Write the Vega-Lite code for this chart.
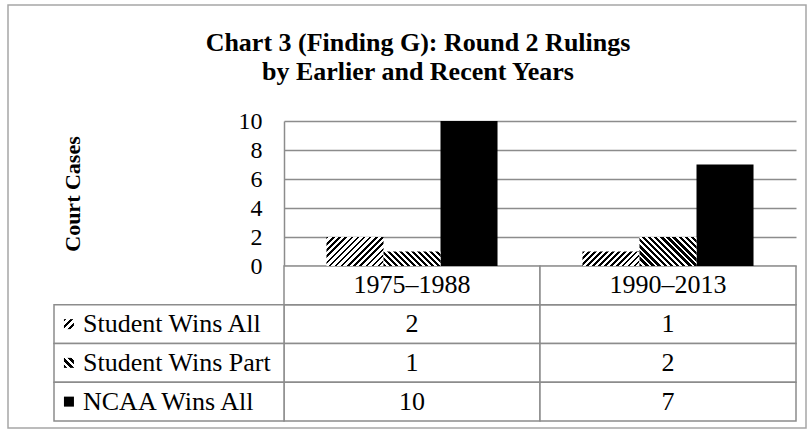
{
  "$schema": "https://vega.github.io/schema/vega-lite/v6.json",
  "width": 512,
  "height": 300,
  "autosize": {"type": "none"},
  "padding": {"left": 284, "top": 121, "right": 14, "bottom": 11},
  "background": "white",
  "config": {"view": {"stroke": null}, "font": "Liberation Serif"},
  "title": {
    "text": ["Chart 3 (Finding G): Round 2 Rulings", "by Earlier and Recent Years"],
    "font": "Liberation Serif", "fontSize": 26, "fontWeight": "bold", "color": "#000",
    "lineHeight": 29, "anchor": "middle", "frame": "group", "dx": -122,
    "baseline": "bottom", "offset": -107
  },
  "datasets": {
    "cases": [
      {"period": "1975–1988", "series": "Student Wins All", "cases": 2},
      {"period": "1975–1988", "series": "Student Wins Part", "cases": 1},
      {"period": "1975–1988", "series": "NCAA Wins All", "cases": 10},
      {"period": "1990–2013", "series": "Student Wins All", "cases": 1},
      {"period": "1990–2013", "series": "Student Wins Part", "cases": 2},
      {"period": "1990–2013", "series": "NCAA Wins All", "cases": 7}
    ]
  },
  "data": {"name": "cases"},
  "resolve": {"scale": {"x": "independent", "y": "independent"}},
  "layer": [
    {
      "transform": [{"aggregate": [{"op": "count", "as": "n"}]}],
      "mark": {"type": "rect", "fill": "white", "fillOpacity": 0, "stroke": "#a6a6a6", "strokeWidth": 1.5},
      "encoding": {
        "x": {"datum": 0, "type": "quantitative", "scale": {"domain": [0, 1], "range": [-276, 522]}, "axis": null},
        "x2": {"datum": 1},
        "y": {"datum": 0, "type": "quantitative", "scale": {"domain": [0, 1], "range": [-116, 307]}, "axis": null},
        "y2": {"datum": 1}
      }
    },
    {
      "mark": {"type": "rect", "fill": "white", "stroke": "#8c8c8c", "strokeWidth": 1.5},
      "encoding": {
        "x": {"field": "period", "type": "nominal", "scale": {"domain": ["1975–1988", "1990–2013"], "paddingInner": 0, "paddingOuter": 0}, "axis": null},
        "y": {"field": "series", "type": "nominal", "scale": {"domain": ["Period", "Student Wins All", "Student Wins Part", "NCAA Wins All"], "range": [145, 300], "paddingInner": 0, "paddingOuter": 0}, "axis": null}
      }
    },
    {
      "mark": {"type": "text", "fontSize": 26, "font": "Liberation Serif", "color": "#000", "baseline": "middle", "align": "center"},
      "encoding": {
        "x": {"field": "period", "type": "nominal", "scale": {"domain": ["1975–1988", "1990–2013"], "paddingInner": 0, "paddingOuter": 0}, "axis": null},
        "y": {"field": "series", "type": "nominal", "scale": {"domain": ["Period", "Student Wins All", "Student Wins Part", "NCAA Wins All"], "range": [145, 300], "paddingInner": 0, "paddingOuter": 0}, "axis": null},
        "text": {"field": "cases", "type": "quantitative"}
      }
    },
    {
      "transform": [{"aggregate": [{"op": "count", "as": "n"}], "groupby": ["period"]}],
      "mark": {"type": "rect", "fill": "white", "stroke": "#8c8c8c", "strokeWidth": 1.5},
      "encoding": {
        "x": {"field": "period", "type": "nominal", "scale": {"domain": ["1975–1988", "1990–2013"], "paddingInner": 0, "paddingOuter": 0}, "axis": null},
        "y": {"datum": "Period", "type": "nominal", "scale": {"domain": ["Period", "Student Wins All", "Student Wins Part", "NCAA Wins All"], "range": [145, 300], "paddingInner": 0, "paddingOuter": 0}, "axis": null}
      }
    },
    {
      "transform": [{"aggregate": [{"op": "count", "as": "n"}], "groupby": ["period"]}],
      "mark": {"type": "text", "fontSize": 26, "font": "Liberation Serif", "color": "#000", "baseline": "middle", "align": "center"},
      "encoding": {
        "x": {"field": "period", "type": "nominal", "scale": {"domain": ["1975–1988", "1990–2013"], "paddingInner": 0, "paddingOuter": 0}, "axis": null},
        "y": {"datum": "Period", "type": "nominal", "scale": {"domain": ["Period", "Student Wins All", "Student Wins Part", "NCAA Wins All"], "range": [145, 300], "paddingInner": 0, "paddingOuter": 0}, "axis": null},
        "text": {"field": "period", "type": "nominal"}
      }
    },
    {
      "transform": [{"aggregate": [{"op": "count", "as": "n"}], "groupby": ["series"]}],
      "mark": {"type": "rect", "fill": "white", "stroke": "#8c8c8c", "strokeWidth": 1.5},
      "encoding": {
        "x": {"datum": 0, "type": "quantitative", "scale": {"domain": [0, 1], "range": [-230, 0]}, "axis": null},
        "x2": {"datum": 1},
        "y": {"field": "series", "type": "nominal", "scale": {"domain": ["Period", "Student Wins All", "Student Wins Part", "NCAA Wins All"], "range": [145, 300], "paddingInner": 0, "paddingOuter": 0}, "axis": null}
      }
    },
    {
      "transform": [{"aggregate": [{"op": "count", "as": "n"}], "groupby": ["series"]}],
      "mark": {"type": "text", "fontSize": 26, "font": "Liberation Serif", "color": "#000", "baseline": "middle", "align": "left", "dx": 29},
      "encoding": {
        "x": {"datum": 0, "type": "quantitative", "scale": {"domain": [0, 1], "range": [-230, 0]}, "axis": null},
        "y": {"field": "series", "type": "nominal", "scale": {"domain": ["Period", "Student Wins All", "Student Wins Part", "NCAA Wins All"], "range": [145, 300], "paddingInner": 0, "paddingOuter": 0}, "axis": null},
        "text": {"field": "series", "type": "nominal"}
      }
    },
    {
      "transform": [{"aggregate": [{"op": "count", "as": "n"}], "groupby": ["series"]}, {"filter": "datum.series === 'Student Wins All'"}],
      "mark": {"type": "point", "shape": "square", "size": 100, "filled": true, "strokeWidth": 0, "opacity": 1,
        "fill": {"gradient": "linear", "x1": 0, "y1": 0, "x2": 1, "y2": 1, "stops": [
          {"offset": 0, "color": "#000"}, {"offset": 0.133, "color": "#000"}, {"offset": 0.133, "color": "#fff"}, {"offset": 0.333, "color": "#fff"},
          {"offset": 0.333, "color": "#000"}, {"offset": 0.467, "color": "#000"}, {"offset": 0.467, "color": "#fff"}, {"offset": 0.667, "color": "#fff"},
          {"offset": 0.667, "color": "#000"}, {"offset": 0.8, "color": "#000"}, {"offset": 0.8, "color": "#fff"}, {"offset": 1, "color": "#fff"}]}},
      "encoding": {
        "x": {"datum": 0.065, "type": "quantitative", "scale": {"domain": [0, 1], "range": [-230, 0]}, "axis": null},
        "y": {"field": "series", "type": "nominal", "scale": {"domain": ["Period", "Student Wins All", "Student Wins Part", "NCAA Wins All"], "range": [145, 300], "paddingInner": 0, "paddingOuter": 0}, "axis": null}
      }
    },
    {
      "transform": [{"aggregate": [{"op": "count", "as": "n"}], "groupby": ["series"]}, {"filter": "datum.series === 'Student Wins Part'"}],
      "mark": {"type": "point", "shape": "square", "size": 100, "filled": true, "strokeWidth": 0, "opacity": 1,
        "fill": {"gradient": "linear", "x1": 0, "y1": 1, "x2": 1, "y2": 0, "stops": [
          {"offset": 0, "color": "#000"}, {"offset": 0.183, "color": "#000"}, {"offset": 0.183, "color": "#fff"}, {"offset": 0.333, "color": "#fff"},
          {"offset": 0.333, "color": "#000"}, {"offset": 0.517, "color": "#000"}, {"offset": 0.517, "color": "#fff"}, {"offset": 0.667, "color": "#fff"},
          {"offset": 0.667, "color": "#000"}, {"offset": 0.85, "color": "#000"}, {"offset": 0.85, "color": "#fff"}, {"offset": 1, "color": "#fff"}]}},
      "encoding": {
        "x": {"datum": 0.065, "type": "quantitative", "scale": {"domain": [0, 1], "range": [-230, 0]}, "axis": null},
        "y": {"field": "series", "type": "nominal", "scale": {"domain": ["Period", "Student Wins All", "Student Wins Part", "NCAA Wins All"], "range": [145, 300], "paddingInner": 0, "paddingOuter": 0}, "axis": null}
      }
    },
    {
      "transform": [{"aggregate": [{"op": "count", "as": "n"}], "groupby": ["series"]}, {"filter": "datum.series === 'NCAA Wins All'"}],
      "mark": {"type": "point", "shape": "square", "size": 100, "filled": true, "strokeWidth": 0, "opacity": 1, "fill": "#000"},
      "encoding": {
        "x": {"datum": 0.065, "type": "quantitative", "scale": {"domain": [0, 1], "range": [-230, 0]}, "axis": null},
        "y": {"field": "series", "type": "nominal", "scale": {"domain": ["Period", "Student Wins All", "Student Wins Part", "NCAA Wins All"], "range": [145, 300], "paddingInner": 0, "paddingOuter": 0}, "axis": null}
      }
    },
    {
      "transform": [{"filter": "datum.series === 'NCAA Wins All'"}],
      "mark": {"type": "bar", "fill": "#000"},
      "encoding": {
        "x": {"field": "period", "type": "nominal", "scale": {"domain": ["1975–1988", "1990–2013"], "paddingInner": 0, "paddingOuter": 0}, "axis": null},
        "xOffset": {"field": "series", "type": "nominal", "scale": {"domain": ["Student Wins All", "Student Wins Part", "NCAA Wins All"], "paddingInner": 0, "paddingOuter": 0.745}},
        "y": {"field": "cases", "type": "quantitative", "scale": {"domain": [0, 10], "range": [145, 0], "nice": false},
          "axis": {"values": [0, 2, 4, 6, 8, 10], "grid": true, "gridColor": "#8c8c8c", "gridWidth": 1.5,
            "domainColor": "#8c8c8c", "domainWidth": 1.5, "ticks": false, "labelPadding": 22,
            "labelFont": "Liberation Serif", "labelFontSize": 24, "labelColor": "#000", "labelBaseline": "middle",
            "title": "Court Cases", "titleFont": "Liberation Serif", "titleFontSize": 22, "titleFontWeight": "bold", "titleColor": "#000",
            "titleX": -212, "titleY": 72.5, "titleAngle": -90, "titleAlign": "center", "titleBaseline": "middle"}}
      }
    },
    {
      "transform": [{"filter": "datum.series === 'Student Wins All' && datum.cases === 2"}],
      "mark": {"type": "bar", "fill": {"gradient": "linear", "x1": 0, "y1": 0, "x2": 1.1985, "y2": 0.6098, "stops": [
        {"offset": 0, "color": "#000"}, {"offset": 0.0286, "color": "#000"}, {"offset": 0.0286, "color": "#fff"}, {"offset": 0.0714, "color": "#fff"},
        {"offset": 0.0714, "color": "#000"}, {"offset": 0.1, "color": "#000"}, {"offset": 0.1, "color": "#fff"}, {"offset": 0.1429, "color": "#fff"},
        {"offset": 0.1429, "color": "#000"}, {"offset": 0.1714, "color": "#000"}, {"offset": 0.1714, "color": "#fff"}, {"offset": 0.2143, "color": "#fff"},
        {"offset": 0.2143, "color": "#000"}, {"offset": 0.2429, "color": "#000"}, {"offset": 0.2429, "color": "#fff"}, {"offset": 0.2857, "color": "#fff"},
        {"offset": 0.2857, "color": "#000"}, {"offset": 0.3143, "color": "#000"}, {"offset": 0.3143, "color": "#fff"}, {"offset": 0.3571, "color": "#fff"},
        {"offset": 0.3571, "color": "#000"}, {"offset": 0.3857, "color": "#000"}, {"offset": 0.3857, "color": "#fff"}, {"offset": 0.4286, "color": "#fff"},
        {"offset": 0.4286, "color": "#000"}, {"offset": 0.4571, "color": "#000"}, {"offset": 0.4571, "color": "#fff"}, {"offset": 0.5, "color": "#fff"},
        {"offset": 0.5, "color": "#000"}, {"offset": 0.5286, "color": "#000"}, {"offset": 0.5286, "color": "#fff"}, {"offset": 0.5714, "color": "#fff"},
        {"offset": 0.5714, "color": "#000"}, {"offset": 0.6, "color": "#000"}, {"offset": 0.6, "color": "#fff"}, {"offset": 0.6429, "color": "#fff"},
        {"offset": 0.6429, "color": "#000"}, {"offset": 0.6714, "color": "#000"}, {"offset": 0.6714, "color": "#fff"}, {"offset": 0.7143, "color": "#fff"},
        {"offset": 0.7143, "color": "#000"}, {"offset": 0.7429, "color": "#000"}, {"offset": 0.7429, "color": "#fff"}, {"offset": 0.7857, "color": "#fff"},
        {"offset": 0.7857, "color": "#000"}, {"offset": 0.8143, "color": "#000"}, {"offset": 0.8143, "color": "#fff"}, {"offset": 0.8571, "color": "#fff"},
        {"offset": 0.8571, "color": "#000"}, {"offset": 0.8857, "color": "#000"}, {"offset": 0.8857, "color": "#fff"}, {"offset": 0.9286, "color": "#fff"},
        {"offset": 0.9286, "color": "#000"}, {"offset": 0.9571, "color": "#000"}, {"offset": 0.9571, "color": "#fff"}, {"offset": 1, "color": "#fff"}]}},
      "encoding": {
        "x": {"field": "period", "type": "nominal", "scale": {"domain": ["1975–1988", "1990–2013"], "paddingInner": 0, "paddingOuter": 0}, "axis": null},
        "xOffset": {"field": "series", "type": "nominal", "scale": {"domain": ["Student Wins All", "Student Wins Part", "NCAA Wins All"], "paddingInner": 0, "paddingOuter": 0.745}},
        "y": {"field": "cases", "type": "quantitative", "scale": {"domain": [0, 10], "range": [145, 0], "nice": false}, "axis": null}
      }
    },
    {
      "transform": [{"filter": "datum.series === 'Student Wins All' && datum.cases === 1"}],
      "mark": {"type": "bar", "fill": {"gradient": "linear", "x1": 0, "y1": 0, "x2": 1.1782, "y2": 0.2997, "stops": [
        {"offset": 0, "color": "#000"}, {"offset": 0.0333, "color": "#000"}, {"offset": 0.0333, "color": "#fff"}, {"offset": 0.0833, "color": "#fff"},
        {"offset": 0.0833, "color": "#000"}, {"offset": 0.1167, "color": "#000"}, {"offset": 0.1167, "color": "#fff"}, {"offset": 0.1667, "color": "#fff"},
        {"offset": 0.1667, "color": "#000"}, {"offset": 0.2, "color": "#000"}, {"offset": 0.2, "color": "#fff"}, {"offset": 0.25, "color": "#fff"},
        {"offset": 0.25, "color": "#000"}, {"offset": 0.2833, "color": "#000"}, {"offset": 0.2833, "color": "#fff"}, {"offset": 0.3333, "color": "#fff"},
        {"offset": 0.3333, "color": "#000"}, {"offset": 0.3667, "color": "#000"}, {"offset": 0.3667, "color": "#fff"}, {"offset": 0.4167, "color": "#fff"},
        {"offset": 0.4167, "color": "#000"}, {"offset": 0.45, "color": "#000"}, {"offset": 0.45, "color": "#fff"}, {"offset": 0.5, "color": "#fff"},
        {"offset": 0.5, "color": "#000"}, {"offset": 0.5333, "color": "#000"}, {"offset": 0.5333, "color": "#fff"}, {"offset": 0.5833, "color": "#fff"},
        {"offset": 0.5833, "color": "#000"}, {"offset": 0.6167, "color": "#000"}, {"offset": 0.6167, "color": "#fff"}, {"offset": 0.6667, "color": "#fff"},
        {"offset": 0.6667, "color": "#000"}, {"offset": 0.7, "color": "#000"}, {"offset": 0.7, "color": "#fff"}, {"offset": 0.75, "color": "#fff"},
        {"offset": 0.75, "color": "#000"}, {"offset": 0.7833, "color": "#000"}, {"offset": 0.7833, "color": "#fff"}, {"offset": 0.8333, "color": "#fff"},
        {"offset": 0.8333, "color": "#000"}, {"offset": 0.8667, "color": "#000"}, {"offset": 0.8667, "color": "#fff"}, {"offset": 0.9167, "color": "#fff"},
        {"offset": 0.9167, "color": "#000"}, {"offset": 0.95, "color": "#000"}, {"offset": 0.95, "color": "#fff"}, {"offset": 1, "color": "#fff"}]}},
      "encoding": {
        "x": {"field": "period", "type": "nominal", "scale": {"domain": ["1975–1988", "1990–2013"], "paddingInner": 0, "paddingOuter": 0}, "axis": null},
        "xOffset": {"field": "series", "type": "nominal", "scale": {"domain": ["Student Wins All", "Student Wins Part", "NCAA Wins All"], "paddingInner": 0, "paddingOuter": 0.745}},
        "y": {"field": "cases", "type": "quantitative", "scale": {"domain": [0, 10], "range": [145, 0], "nice": false}, "axis": null}
      }
    },
    {
      "transform": [{"filter": "datum.series === 'Student Wins Part' && datum.cases === 1"}],
      "mark": {"type": "bar", "fill": {"gradient": "linear", "x1": 0, "y1": 1, "x2": 1.1782, "y2": 0.7003, "stops": [
        {"offset": 0, "color": "#000"}, {"offset": 0.0458, "color": "#000"}, {"offset": 0.0458, "color": "#fff"}, {"offset": 0.0833, "color": "#fff"},
        {"offset": 0.0833, "color": "#000"}, {"offset": 0.1292, "color": "#000"}, {"offset": 0.1292, "color": "#fff"}, {"offset": 0.1667, "color": "#fff"},
        {"offset": 0.1667, "color": "#000"}, {"offset": 0.2125, "color": "#000"}, {"offset": 0.2125, "color": "#fff"}, {"offset": 0.25, "color": "#fff"},
        {"offset": 0.25, "color": "#000"}, {"offset": 0.2958, "color": "#000"}, {"offset": 0.2958, "color": "#fff"}, {"offset": 0.3333, "color": "#fff"},
        {"offset": 0.3333, "color": "#000"}, {"offset": 0.3792, "color": "#000"}, {"offset": 0.3792, "color": "#fff"}, {"offset": 0.4167, "color": "#fff"},
        {"offset": 0.4167, "color": "#000"}, {"offset": 0.4625, "color": "#000"}, {"offset": 0.4625, "color": "#fff"}, {"offset": 0.5, "color": "#fff"},
        {"offset": 0.5, "color": "#000"}, {"offset": 0.5458, "color": "#000"}, {"offset": 0.5458, "color": "#fff"}, {"offset": 0.5833, "color": "#fff"},
        {"offset": 0.5833, "color": "#000"}, {"offset": 0.6292, "color": "#000"}, {"offset": 0.6292, "color": "#fff"}, {"offset": 0.6667, "color": "#fff"},
        {"offset": 0.6667, "color": "#000"}, {"offset": 0.7125, "color": "#000"}, {"offset": 0.7125, "color": "#fff"}, {"offset": 0.75, "color": "#fff"},
        {"offset": 0.75, "color": "#000"}, {"offset": 0.7958, "color": "#000"}, {"offset": 0.7958, "color": "#fff"}, {"offset": 0.8333, "color": "#fff"},
        {"offset": 0.8333, "color": "#000"}, {"offset": 0.8792, "color": "#000"}, {"offset": 0.8792, "color": "#fff"}, {"offset": 0.9167, "color": "#fff"},
        {"offset": 0.9167, "color": "#000"}, {"offset": 0.9625, "color": "#000"}, {"offset": 0.9625, "color": "#fff"}, {"offset": 1, "color": "#fff"}]}},
      "encoding": {
        "x": {"field": "period", "type": "nominal", "scale": {"domain": ["1975–1988", "1990–2013"], "paddingInner": 0, "paddingOuter": 0}, "axis": null},
        "xOffset": {"field": "series", "type": "nominal", "scale": {"domain": ["Student Wins All", "Student Wins Part", "NCAA Wins All"], "paddingInner": 0, "paddingOuter": 0.745}},
        "y": {"field": "cases", "type": "quantitative", "scale": {"domain": [0, 10], "range": [145, 0], "nice": false}, "axis": null}
      }
    },
    {
      "transform": [{"filter": "datum.series === 'Student Wins Part' && datum.cases === 2"}],
      "mark": {"type": "bar", "fill": {"gradient": "linear", "x1": 0, "y1": 1, "x2": 1.1985, "y2": 0.3902, "stops": [
        {"offset": 0, "color": "#000"}, {"offset": 0.0393, "color": "#000"}, {"offset": 0.0393, "color": "#fff"}, {"offset": 0.0714, "color": "#fff"},
        {"offset": 0.0714, "color": "#000"}, {"offset": 0.1107, "color": "#000"}, {"offset": 0.1107, "color": "#fff"}, {"offset": 0.1429, "color": "#fff"},
        {"offset": 0.1429, "color": "#000"}, {"offset": 0.1821, "color": "#000"}, {"offset": 0.1821, "color": "#fff"}, {"offset": 0.2143, "color": "#fff"},
        {"offset": 0.2143, "color": "#000"}, {"offset": 0.2536, "color": "#000"}, {"offset": 0.2536, "color": "#fff"}, {"offset": 0.2857, "color": "#fff"},
        {"offset": 0.2857, "color": "#000"}, {"offset": 0.325, "color": "#000"}, {"offset": 0.325, "color": "#fff"}, {"offset": 0.3571, "color": "#fff"},
        {"offset": 0.3571, "color": "#000"}, {"offset": 0.3964, "color": "#000"}, {"offset": 0.3964, "color": "#fff"}, {"offset": 0.4286, "color": "#fff"},
        {"offset": 0.4286, "color": "#000"}, {"offset": 0.4679, "color": "#000"}, {"offset": 0.4679, "color": "#fff"}, {"offset": 0.5, "color": "#fff"},
        {"offset": 0.5, "color": "#000"}, {"offset": 0.5393, "color": "#000"}, {"offset": 0.5393, "color": "#fff"}, {"offset": 0.5714, "color": "#fff"},
        {"offset": 0.5714, "color": "#000"}, {"offset": 0.6107, "color": "#000"}, {"offset": 0.6107, "color": "#fff"}, {"offset": 0.6429, "color": "#fff"},
        {"offset": 0.6429, "color": "#000"}, {"offset": 0.6821, "color": "#000"}, {"offset": 0.6821, "color": "#fff"}, {"offset": 0.7143, "color": "#fff"},
        {"offset": 0.7143, "color": "#000"}, {"offset": 0.7536, "color": "#000"}, {"offset": 0.7536, "color": "#fff"}, {"offset": 0.7857, "color": "#fff"},
        {"offset": 0.7857, "color": "#000"}, {"offset": 0.825, "color": "#000"}, {"offset": 0.825, "color": "#fff"}, {"offset": 0.8571, "color": "#fff"},
        {"offset": 0.8571, "color": "#000"}, {"offset": 0.8964, "color": "#000"}, {"offset": 0.8964, "color": "#fff"}, {"offset": 0.9286, "color": "#fff"},
        {"offset": 0.9286, "color": "#000"}, {"offset": 0.9679, "color": "#000"}, {"offset": 0.9679, "color": "#fff"}, {"offset": 1, "color": "#fff"}]}},
      "encoding": {
        "x": {"field": "period", "type": "nominal", "scale": {"domain": ["1975–1988", "1990–2013"], "paddingInner": 0, "paddingOuter": 0}, "axis": null},
        "xOffset": {"field": "series", "type": "nominal", "scale": {"domain": ["Student Wins All", "Student Wins Part", "NCAA Wins All"], "paddingInner": 0, "paddingOuter": 0.745}},
        "y": {"field": "cases", "type": "quantitative", "scale": {"domain": [0, 10], "range": [145, 0], "nice": false}, "axis": null}
      }
    }
  ]
}
